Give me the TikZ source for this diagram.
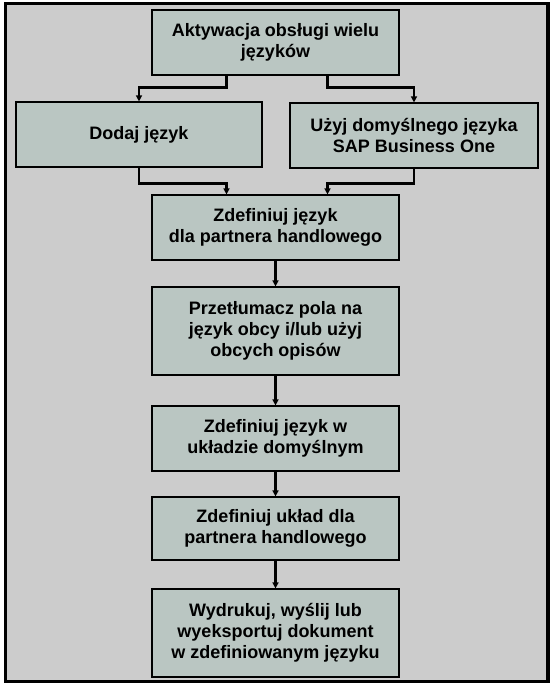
\documentclass[tikz,border=0pt]{standalone}
\usepackage{fontspec}
\setmainfont{Liberation Sans}
\usetikzlibrary{arrows.meta}

\definecolor{tlo}{RGB}{204,204,204}
\definecolor{pole}{RGB}{186,198,194}

\tikzset{
    krok/.style={draw=black,line width=1.2pt,fill=pole,align=center,
        font=\fontsize{18}{21}\selectfont\bfseries,inner sep=0pt},
    polacz/.style={->,line width=2.4pt},
}

\begin{document}
\begin{tikzpicture}[x=1pt,y=-1pt,>={Triangle[length=6pt,width=6pt]}]
    % tlo i ramka calego schematu
    \useasboundingbox (0,0) rectangle (554,691);
    \draw[line width=3.5pt,fill=tlo] (5.5,3.5) rectangle (548,681.5);

    % gorna czesc: wybor jezyka
    \node[krok,minimum width=247pt,minimum height=65pt] (akt) at (275.5,42.5)
        {Aktywacja obsługi wielu\\języków};
    \node[krok,minimum width=246pt,minimum height=65pt] (dodaj) at (139,134.5)
        {Dodaj język};
    \node[krok,minimum width=248pt,minimum height=65pt] (uzyj) at (414,135.5)
        {Użyj domyślnego języka\\SAP Business One};

    % srodkowa kolumna kolejnych krokow
    \node[krok,minimum width=247pt,minimum height=65pt] (partner) at (275.5,227.5)
        {Zdefiniuj język\\dla partnera handlowego};
    \node[krok,minimum width=247pt,minimum height=88pt] (tlumacz) at (275.5,331)
        {Przetłumacz pola na\\język obcy i/lub użyj\\obcych opisów};
    \node[krok,minimum width=247pt,minimum height=65pt] (uklad) at (275.5,438.5)
        {Zdefiniuj język w\\układzie domyślnym};
    \node[krok,minimum width=247pt,minimum height=63pt] (ukladpart) at (275.5,528.5)
        {Zdefiniuj układ dla\\partnera handlowego};
    \node[krok,minimum width=247pt,minimum height=88pt] (druk) at (275.5,633)
        {Wydrukuj, wyślij lub\\wyeksportuj dokument\\w zdefiniowanym języku};

    % rozgalezienie i polaczenie
    \draw[polacz] ([xshift=-49pt]akt.south) -- ++(0,12) -| (dodaj.north);
    \draw[polacz] ([xshift=52pt]akt.south) -- ++(0,12) -| (uzyj.north);
    \draw[polacz] (dodaj.south) -- ++(0,16) -| ([xshift=-49pt]partner.north);
    \draw[polacz] (uzyj.south) -- ++(0,15) -| ([xshift=52pt]partner.north);

    \draw[polacz] (partner) -- (tlumacz);
    \draw[polacz] (tlumacz) -- (uklad);
    \draw[polacz] (uklad) -- (ukladpart);
    \draw[polacz] (ukladpart) -- (druk);
\end{tikzpicture}
\end{document}
